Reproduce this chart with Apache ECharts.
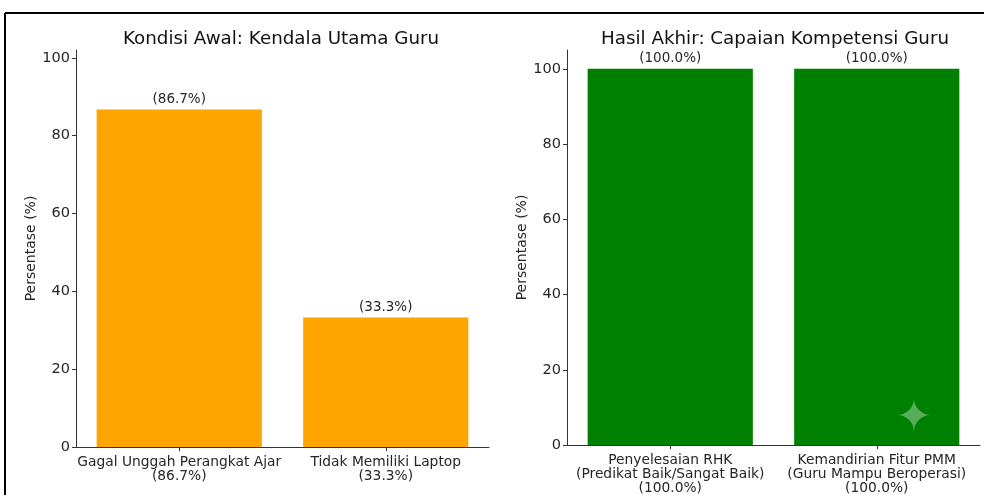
<!DOCTYPE html>
<html>
<head>
<meta charset="utf-8">
<script src="https://cdn.jsdelivr.net/npm/echarts@6/dist/echarts.min.js"></script>
<style>
  html, body { margin: 0; padding: 0; background: #fff; }
  #chart { width: 984px; height: 495px; }
</style>
</head>
<body>
<div id="chart"></div>
<script>
// data
const leftTitle = "Kondisi Awal: Kendala Utama Guru";
const leftCategories = ["Gagal Unggah Perangkat Ajar\n(86.7%)", "Tidak Memiliki Laptop\n(33.3%)"];
const leftValues = [86.7, 33.3];

const rightTitle = "Hasil Akhir: Capaian Kompetensi Guru";
const rightCategories = [
  "Penyelesaian RHK\n(Predikat Baik/Sangat Baik)\n(100.0%)",
  "Kemandirian Fitur PMM\n(Guru Mampu Beroperasi)\n(100.0%)",
];
const rightValues = [100, 100];

const yTicks = [0, 20, 40, 60, 80, 100];

const font = "DejaVu Sans";
const ink = "#262626";

const yAxisBase = (gridIndex, max) => ({
  type: "value",
  gridIndex,
  min: 0,
  max,
  name: "Persentase (%)",
  nameLocation: "middle",
  nameRotate: 90,
  nameGap: 38,
  nameTextStyle: { fontFamily: font, fontSize: 14, color: ink },
  axisLine: { show: true, lineStyle: { color: "#333", width: 1 } },
  axisTick: { show: true, length: 4, customValues: yTicks, lineStyle: { color: "#333" } },
  axisLabel: { customValues: yTicks, fontFamily: font, fontSize: 14.5, color: ink, margin: 6 },
  splitLine: { show: false },
});

const xAxisBase = (gridIndex, data) => ({
  type: "category",
  gridIndex,
  data,
  axisLine: { show: true, lineStyle: { color: "#333", width: 1 } },
  axisTick: { show: true, alignWithLabel: true, length: 4, lineStyle: { color: "#333" } },
  axisLabel: { interval: 0, fontFamily: font, fontSize: 13.8, color: ink, lineHeight: 14, margin: 8 },
});

const barLabel = {
  show: true,
  position: "top",
  distance: 3,
  fontFamily: font,
  fontSize: 13.5,
  color: ink,
  formatter: (p) => "(" + p.value.toFixed(1) + "%)",
};

const option = {
  animation: false,
  backgroundColor: "#fff",
  title: [
    {
      text: leftTitle,
      left: 276,
      top: 25,
      textAlign: "center",
      textStyle: { fontFamily: font, fontSize: 18.3, fontWeight: "normal", color: "#111" },
    },
    {
      text: rightTitle,
      left: 770,
      top: 25,
      textAlign: "center",
      textStyle: { fontFamily: font, fontSize: 18.3, fontWeight: "normal", color: "#111" },
    },
  ],
  grid: [
    { left: 76, right: 495, top: 50, bottom: 48 },
    { left: 567, right: 4, top: 50, bottom: 48 },
  ],
  xAxis: [xAxisBase(0, leftCategories), xAxisBase(1, rightCategories)],
  yAxis: [yAxisBase(0, 102), yAxisBase(1, 105)],
  series: [
    {
      type: "bar",
      xAxisIndex: 0,
      yAxisIndex: 0,
      data: leftValues,
      barWidth: "80%",
      itemStyle: { color: "#FFA500" },
      label: barLabel,
    },
    {
      type: "bar",
      xAxisIndex: 1,
      yAxisIndex: 1,
      data: rightValues,
      barWidth: "80%",
      itemStyle: { color: "#008000" },
      label: barLabel,
    },
  ],
  graphic: [
    // frame of the screenshot
    { type: "line", shape: { x1: 5, y1: 13, x2: 984, y2: 13 }, style: { stroke: "#000", lineWidth: 2 } },
    { type: "line", shape: { x1: 5, y1: 13, x2: 5, y2: 495 }, style: { stroke: "#000", lineWidth: 2 } },
    // sparkle watermark
    {
      type: "text",
      x: 914,
      y: 420,
      z: 100,
      style: {
        text: "\u2726",
        fontFamily: font,
        fontSize: 44,
        fill: "rgba(255,255,255,0.35)",
        align: "center",
        verticalAlign: "middle",
      },
    },
  ],
};

const chart = echarts.init(document.getElementById("chart"));
chart.setOption(option);
</script>
</body>
</html>
